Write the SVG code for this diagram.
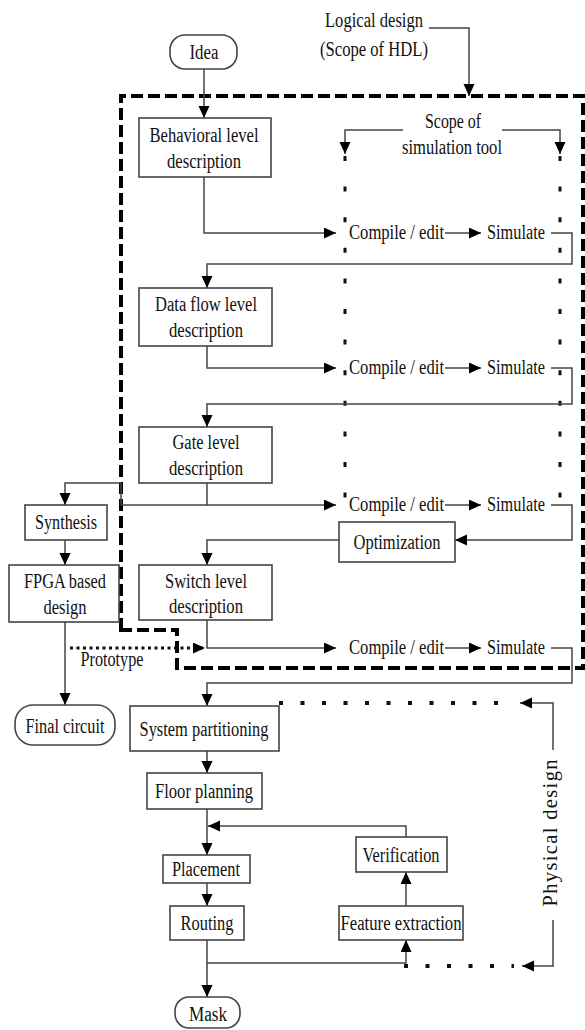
<svg xmlns="http://www.w3.org/2000/svg" width="585" height="1030" viewBox="0 0 585 1030">
<style>
text{font-family:"Liberation Serif","Times New Roman",serif;font-size:20.5px;fill:#111;}
.c{text-anchor:middle;}
.box{fill:#fff;stroke:#444;stroke-width:1.6;}
.ln{fill:none;stroke:#444;stroke-width:1.5;}
.arr{marker-end:url(#ah);}
.dash{fill:none;stroke:#000;stroke-width:4;stroke-dasharray:12 5;}
.dotc{fill:none;stroke:#111;stroke-width:3;stroke-dasharray:5 25.6;}
.doth{fill:none;stroke:#111;stroke-width:4;stroke-dasharray:4 17.5;}
.dotp{fill:none;stroke:#111;stroke-width:3;stroke-dasharray:3 3.5;}
</style>
<defs>
<marker id="ah" markerUnits="userSpaceOnUse" markerWidth="12" markerHeight="12" refX="12" refY="5.5" orient="auto">
<path d="M0,0 L12,5.5 L0,11 Z" fill="#000"/>
</marker>
</defs>

<g id="scope-boundary">
<path class="dash" d="M121,630 V96 H583 V668 H177 V630 Z"/>
</g>

<g id="connectors">
<path class="ln arr" d="M204,69 V118"/>
<path class="ln arr" d="M429,28 H469 V96"/>
<path class="ln arr" d="M403,130 H345 V154"/>
<path class="ln arr" d="M502,130 H560 V154"/>
<path class="dotc" d="M345,156 V500"/>
<path class="dotc" d="M560,156 V500"/>
<path class="ln arr" d="M204,177 V233 H336"/>
<path class="ln arr" d="M445,233 H481"/>
<path class="ln arr" d="M551,233 H572 V264 H207 V288"/>
<path class="ln arr" d="M207,346 V368 H336"/>
<path class="ln arr" d="M445,368 H481"/>
<path class="ln arr" d="M551,368 H572 V404 H207 V427"/>
<path class="ln" d="M207,483 V505"/>
<path class="ln arr" d="M121,505 H336"/>
<path class="ln arr" d="M121,505 V483 H65 V505"/>
<path class="ln arr" d="M445,505 H481"/>
<path class="ln arr" d="M551,505 H572 V540 H455"/>
<path class="ln arr" d="M339,540 H207 V565"/>
<path class="ln arr" d="M65,540 V565"/>
<path class="ln arr" d="M65,622 V705"/>
<path class="dotp arr" d="M70,648 H205"/>
<path class="ln arr" d="M207,620 V648 H336"/>
<path class="ln arr" d="M445,648 H481"/>
<path class="ln arr" d="M551,648 H572 V683 H207 V706"/>
<path class="ln arr" d="M207,751 V773"/>
<path class="ln arr" d="M207,809 V855"/>
<path class="ln arr" d="M406,837 V826 H208"/>
<path class="ln arr" d="M207,883 V906"/>
<path class="ln arr" d="M406,906 V872"/>
<path class="ln arr" d="M207,940 V997"/>
<path class="ln arr" d="M207,963 H406 V940"/>
<path class="doth" d="M279,703 H512"/>
<path class="ln arr" d="M553,750 V703 H520"/>
<path class="doth" d="M404,966 H514"/>
<path class="ln arr" d="M553,920 V966 H522"/>
</g>

<g id="label-logical">
<text class="c" x="374" y="27" textLength="98" lengthAdjust="spacingAndGlyphs">Logical design</text>
<text class="c" x="374" y="56" textLength="108" lengthAdjust="spacingAndGlyphs">(Scope of HDL)</text>
</g>
<g id="label-scope">
<text class="c" x="453" y="128" textLength="56" lengthAdjust="spacingAndGlyphs">Scope of</text>
<text class="c" x="452" y="154" textLength="100" lengthAdjust="spacingAndGlyphs">simulation tool</text>
</g>

<g id="idea">
<rect x="170" y="35" width="67" height="34" rx="15" class="box"/>
<text class="c" x="204" y="59" textLength="29" lengthAdjust="spacingAndGlyphs">Idea</text>
</g>
<g id="behavioral">
<rect x="139" y="118" width="132" height="59" class="box"/>
<text class="c" x="204" y="142" textLength="109" lengthAdjust="spacingAndGlyphs">Behavioral level</text>
<text class="c" x="204" y="168" textLength="74" lengthAdjust="spacingAndGlyphs">description</text>
</g>
<g id="dataflow">
<rect x="139" y="288" width="133" height="58" class="box"/>
<text class="c" x="206" y="311" textLength="102" lengthAdjust="spacingAndGlyphs">Data flow level</text>
<text class="c" x="206" y="337" textLength="74" lengthAdjust="spacingAndGlyphs">description</text>
</g>
<g id="gate">
<rect x="139" y="427" width="133" height="56" class="box"/>
<text class="c" x="206" y="449" textLength="67" lengthAdjust="spacingAndGlyphs">Gate level</text>
<text class="c" x="206" y="475" textLength="74" lengthAdjust="spacingAndGlyphs">description</text>
</g>
<g id="switch">
<rect x="139" y="565" width="133" height="55" class="box"/>
<text class="c" x="206" y="588" textLength="82" lengthAdjust="spacingAndGlyphs">Switch level</text>
<text class="c" x="206" y="613" textLength="74" lengthAdjust="spacingAndGlyphs">description</text>
</g>

<g id="compile1"><text x="349" y="239" textLength="95" lengthAdjust="spacingAndGlyphs">Compile / edit</text></g>
<g id="simulate1"><text x="487" y="239" textLength="58" lengthAdjust="spacingAndGlyphs">Simulate</text></g>
<g id="compile2"><text x="349" y="374" textLength="95" lengthAdjust="spacingAndGlyphs">Compile / edit</text></g>
<g id="simulate2"><text x="487" y="374" textLength="58" lengthAdjust="spacingAndGlyphs">Simulate</text></g>
<g id="compile3"><text x="349" y="511" textLength="95" lengthAdjust="spacingAndGlyphs">Compile / edit</text></g>
<g id="simulate3"><text x="487" y="511" textLength="58" lengthAdjust="spacingAndGlyphs">Simulate</text></g>
<g id="compile4"><text x="349" y="654" textLength="95" lengthAdjust="spacingAndGlyphs">Compile / edit</text></g>
<g id="simulate4"><text x="487" y="654" textLength="58" lengthAdjust="spacingAndGlyphs">Simulate</text></g>

<g id="optimization">
<rect x="339" y="522" width="116" height="40" class="box"/>
<text class="c" x="397" y="549" textLength="87" lengthAdjust="spacingAndGlyphs">Optimization</text>
</g>
<g id="synthesis">
<rect x="25" y="505" width="82" height="35" class="box"/>
<text class="c" x="66" y="529" textLength="62" lengthAdjust="spacingAndGlyphs">Synthesis</text>
</g>
<g id="fpga">
<rect x="9" y="565" width="110" height="57" class="box"/>
<text class="c" x="65" y="588" textLength="82" lengthAdjust="spacingAndGlyphs">FPGA based</text>
<text class="c" x="65" y="614" textLength="43" lengthAdjust="spacingAndGlyphs">design</text>
</g>
<g id="label-prototype">
<text class="c" x="112" y="666" textLength="63" lengthAdjust="spacingAndGlyphs">Prototype</text>
</g>
<g id="final-circuit">
<rect x="15" y="705" width="100" height="40" rx="18" class="box"/>
<text class="c" x="65" y="733" textLength="79" lengthAdjust="spacingAndGlyphs">Final circuit</text>
</g>
<g id="system-partitioning">
<rect x="130" y="706" width="149" height="45" class="box"/>
<text class="c" x="204" y="736" textLength="129" lengthAdjust="spacingAndGlyphs">System partitioning</text>
</g>
<g id="floor-planning">
<rect x="147" y="773" width="115" height="36" class="box"/>
<text class="c" x="204" y="798" textLength="98" lengthAdjust="spacingAndGlyphs">Floor planning</text>
</g>
<g id="placement">
<rect x="163" y="855" width="87" height="28" class="box"/>
<text class="c" x="206" y="876" textLength="68" lengthAdjust="spacingAndGlyphs">Placement</text>
</g>
<g id="verification">
<rect x="356" y="837" width="91" height="35" class="box"/>
<text class="c" x="401" y="862" textLength="77" lengthAdjust="spacingAndGlyphs">Verification</text>
</g>
<g id="routing">
<rect x="170" y="906" width="74" height="34" class="box"/>
<text class="c" x="207" y="930" textLength="53" lengthAdjust="spacingAndGlyphs">Routing</text>
</g>
<g id="feature-extraction">
<rect x="339" y="906" width="124" height="34" class="box"/>
<text class="c" x="401" y="930" textLength="121" lengthAdjust="spacingAndGlyphs">Feature extraction</text>
</g>
<g id="mask">
<rect x="175" y="997" width="65" height="31" rx="14" class="box"/>
<text class="c" x="208" y="1021" textLength="38" lengthAdjust="spacingAndGlyphs">Mask</text>
</g>
<g id="label-physical">
<text class="c" transform="translate(557,833) rotate(-90)" x="0" y="0" textLength="147" lengthAdjust="spacing">Physical design</text>
</g>
</svg>
